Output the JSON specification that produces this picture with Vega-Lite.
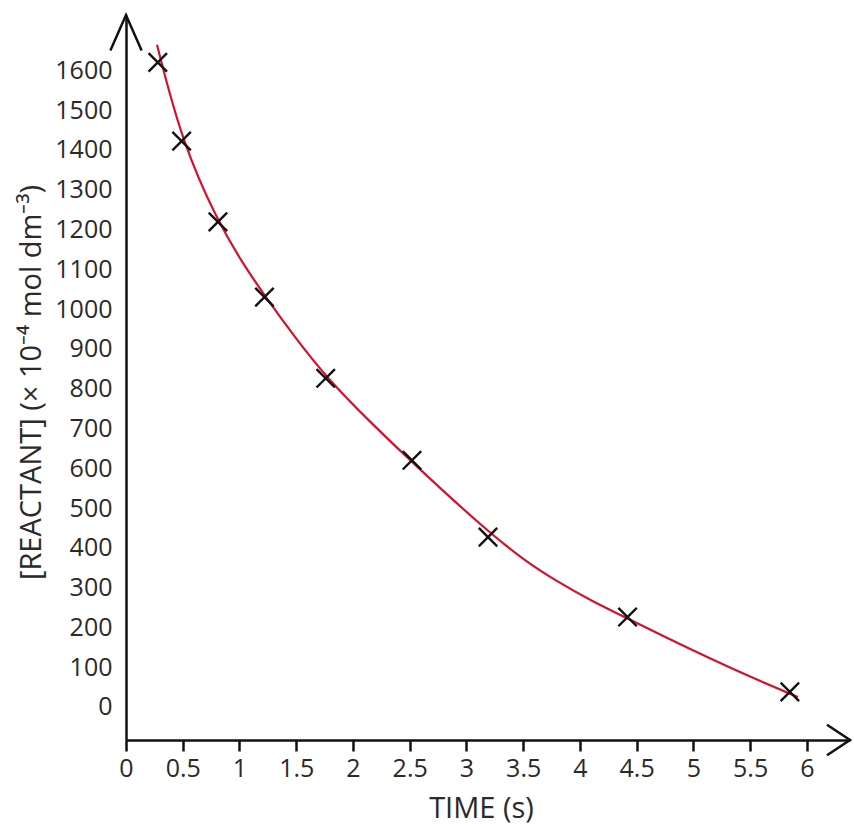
{
  "$schema": "https://vega.github.io/schema/vega-lite/v6.json",
  "width": 724,
  "height": 725,
  "autosize": {"type": "none"},
  "padding": {"left": 126, "top": 15, "right": 4, "bottom": 85},
  "background": "white",
  "config": {
    "view": {"stroke": null},
    "font": "Open Sans",
    "axis": {
      "grid": false,
      "domainColor": "#111111",
      "domainWidth": 2.5,
      "tickColor": "#111111",
      "tickWidth": 2.5,
      "labelFont": "Open Sans",
      "labelColor": "#2a2a2a",
      "labelFontSize": 25,
      "titleFont": "Open Sans",
      "titleColor": "#2a2a2a",
      "titleFontWeight": "normal",
      "titleFontSize": 29
    }
  },
  "datasets": {
    "points": [
      {"time": 0.28, "conc": 1620},
      {"time": 0.49, "conc": 1422},
      {"time": 0.81, "conc": 1219},
      {"time": 1.22, "conc": 1030},
      {"time": 1.76, "conc": 826},
      {"time": 2.52, "conc": 620},
      {"time": 3.19, "conc": 427},
      {"time": 4.42, "conc": 226},
      {"time": 5.85, "conc": 38}
    ],
    "curve": [
      {"time": 0.273, "conc": 1664},
      {"time": 0.493, "conc": 1420},
      {"time": 0.811, "conc": 1219},
      {"time": 1.022, "conc": 1118},
      {"time": 1.225, "conc": 1032},
      {"time": 1.507, "conc": 922},
      {"time": 1.762, "conc": 830},
      {"time": 2.15, "conc": 716},
      {"time": 2.52, "conc": 616},
      {"time": 2.828, "conc": 534},
      {"time": 3.189, "conc": 442},
      {"time": 3.5, "conc": 370},
      {"time": 3.8, "conc": 315},
      {"time": 4.1, "conc": 267},
      {"time": 4.414, "conc": 223},
      {"time": 4.766, "conc": 174},
      {"time": 5.145, "conc": 122},
      {"time": 5.498, "conc": 76},
      {"time": 5.921, "conc": 25}
    ]
  },
  "layer": [
    {
      "data": {"name": "curve"},
      "mark": {"type": "line", "color": "#d3122e", "strokeWidth": 2.2, "interpolate": "basis"},
      "encoding": {
        "x": {
          "field": "time", "type": "quantitative",
          "scale": {"domain": [0, 6.38], "nice": false, "zero": false},
          "axis": {
            "values": [0, 0.5, 1, 1.5, 2, 2.5, 3, 3.5, 4, 4.5, 5, 5.5, 6],
            "format": ".1~f",
            "tickSize": 11,
            "labelPadding": 5,
            "labelFlush": false,
            "labelOverlap": false,
            "title": "TIME (s)",
            "titleX": 355,
            "titleY": 68,
            "titleBaseline": "middle",
            "titleAlign": "center"
          }
        },
        "y": {
          "field": "conc", "type": "quantitative",
          "scale": {"domain": [-83, 1739], "nice": false, "zero": false},
          "axis": {
            "values": [0, 100, 200, 300, 400, 500, 600, 700, 800, 900, 1000, 1100, 1200, 1300, 1400, 1500, 1600],
            "format": "d",
            "ticks": false,
            "tickSize": 0,
            "labelPadding": 14,
            "labelFlush": false,
            "labelOverlap": false,
            "title": "[REACTANT] (× 10⁻⁴ mol dm⁻³)",
            "titleAngle": -90,
            "titleX": -95,
            "titleY": 367,
            "titleBaseline": "middle",
            "titleAlign": "center"
          }
        }
      }
    },
    {
      "data": {"name": "points"},
      "mark": {"type": "point", "shape": "M-1,-1L1,1M-1,1L1,-1", "filled": false, "stroke": "#111111", "strokeWidth": 2.4, "size": 340, "opacity": 1},
      "encoding": {
        "x": {"field": "time", "type": "quantitative"},
        "y": {"field": "conc", "type": "quantitative"}
      }
    },
    {
      "data": {"values": [{}]},
      "mark": {"type": "point", "shape": "M-0.44,1L0,0L0.44,1", "filled": false, "stroke": "#111111", "strokeWidth": 2.5, "size": 5041, "opacity": 1, "clip": false},
      "encoding": {
        "x": {"datum": 0, "type": "quantitative"},
        "y": {"datum": 1739, "type": "quantitative"}
      }
    },
    {
      "data": {"values": [{}]},
      "mark": {"type": "point", "shape": "M-1,-0.66L0,0L-1,0.66", "filled": false, "stroke": "#111111", "strokeWidth": 2.5, "size": 2116, "opacity": 1, "clip": false},
      "encoding": {
        "x": {"datum": 6.38, "type": "quantitative"},
        "y": {"datum": -83, "type": "quantitative"}
      }
    }
  ]
}
